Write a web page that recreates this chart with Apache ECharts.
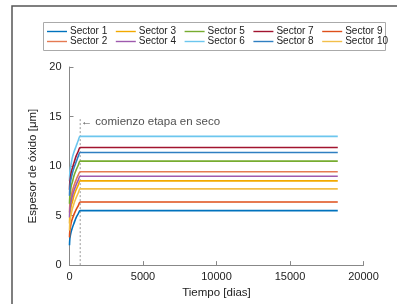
<!DOCTYPE html>
<html>
<head>
<meta charset="utf-8">
<script src="https://cdn.jsdelivr.net/npm/echarts@6/dist/echarts.min.js"></script>
<style>
  html, body { margin: 0; padding: 0; background: #fff; }
  #chart { width: 397px; height: 304px; }
</style>
</head>
<body>
<div id="chart"></div>
<script>
// tiempo en dias
const days = [0, 20, 60, 120, 200, 300, 450, 600, 730, 18250];
const sectorNames = ["Sector 1", "Sector 2", "Sector 3", "Sector 4", "Sector 5",
  "Sector 6", "Sector 7", "Sector 8", "Sector 9", "Sector 10"];
const sectorColors = ["#0072BD", "#E57A52", "#F2A900", "#9E5AAE", "#77AC30",
  "#6CC6EE", "#A2142F", "#2F7FC1", "#DE4F1A", "#F2BF4A"];
// espesor de oxido [um]
const sector1 = [2.0, 2.6, 3.0, 3.4, 3.8, 4.2, 4.8, 5.2, 5.5, 5.5];
const sector2 = [5.3, 6.0, 6.5, 7.0, 7.5, 8.0, 8.6, 9.1, 9.43, 9.43];
const sector3 = [4.2, 4.9, 5.4, 6.0, 6.4, 7.0, 7.6, 8.1, 8.5, 8.5];
const sector4 = [4.8, 5.5, 6.0, 6.5, 7.0, 7.5, 8.1, 8.6, 8.97, 8.97];
const sector5 = [6.2, 6.9, 7.4, 8.0, 8.4, 9.0, 9.6, 10.1, 10.5, 10.5];
const sector6 = [8.5, 9.3, 9.8, 10.3, 10.9, 11.4, 12.0, 12.6, 13.0, 13.0];
const sector7 = [7.6, 8.3, 8.8, 9.4, 9.8, 10.3, 11.0, 11.5, 11.87, 11.87];
const sector8 = [7.0, 7.7, 8.3, 8.8, 9.3, 9.8, 10.4, 11.0, 11.37, 11.37];
const sector9 = [2.8, 3.4, 3.8, 4.3, 4.7, 5.1, 5.6, 6.0, 6.37, 6.37];
const sector10 = [3.5, 4.2, 4.7, 5.2, 5.7, 6.2, 6.8, 7.3, 7.7, 7.7];
const sectors = [sector1, sector2, sector3, sector4, sector5,
  sector6, sector7, sector8, sector9, sector10];
// linea de inicio de la etapa en seco
const dryStart = [[730, 0], [730, 14.8]];
const dryLabel = [[760, 14.5]];
const xTicks = [0, 20000, 5000];
const yTicks = [0, 20, 5];

const font = "Liberation Sans, Arial, sans-serif";
const chart = echarts.init(document.getElementById("chart"), null, { renderer: "canvas" });

const series = sectors.map((vals, i) => ({
  name: sectorNames[i],
  type: "line",
  data: days.map((d, k) => [d, vals[k]]),
  showSymbol: false,
  smooth: 0.3,
  lineStyle: { width: 1.6, color: sectorColors[i] },
  itemStyle: { color: sectorColors[i] },
  z: 3
}));
series.push({
  type: "line",
  data: dryStart,
  showSymbol: false,
  silent: true,
  lineStyle: { width: 1.2, color: "#aaaaaa", type: [2, 2] },
  z: 2
});
series.push({
  type: "scatter",
  data: dryLabel,
  symbolSize: 0,
  silent: true,
  label: {
    show: true, position: "right", distance: 0,
    formatter: "\u2190 comienzo etapa en seco",
    color: "#222", fontSize: 11.5, fontFamily: font
  }
});

// leyenda: 2 filas x 5 columnas
const legends = sectorNames.map((name, i) => ({
  data: [name],
  left: 47 + Math.floor(i / 2) * 68.8,
  top: i % 2 === 0 ? 26.5 : 36.5,
  itemWidth: 20, itemHeight: 10, itemGap: 0,
  padding: 0,
  icon: "path://M0,4.3L20,4.3L20,5.7L0,5.7Z",
  textStyle: { fontSize: 10, fontFamily: font, color: "#222", padding: [0, 0, 0, -2] },
  selectedMode: false
}));

chart.setOption({
  animation: false,
  backgroundColor: "#fff",
  graphic: [
    { type: "rect", shape: { x: 12, y: 6, width: 420, height: 320 },
      style: { fill: "none", stroke: "#555", lineWidth: 1.5 }, z: -1 },
    { type: "rect", shape: { x: 43.5, y: 22.5, width: 342, height: 28 },
      style: { fill: "#fff", stroke: "#aaa", lineWidth: 1 }, z: -1 }
  ],
  legend: legends,
  grid: { left: 69.5, right: 33.5, top: 67, bottom: 37 },
  xAxis: {
    type: "value", min: xTicks[0], max: xTicks[1], interval: xTicks[2],
    name: "Tiempo [dias]", nameLocation: "middle", nameGap: 18,
    nameTextStyle: { fontSize: 11.5, fontFamily: font, color: "#222" },
    axisLine: { onZero: false, lineStyle: { color: "#888", width: 1 } },
    axisTick: { inside: true, length: 4, lineStyle: { color: "#888" } },
    axisLabel: { fontSize: 11, fontFamily: font, color: "#222", margin: 6,
      formatter: v => String(v) },
    splitLine: { show: false }
  },
  yAxis: {
    type: "value", min: yTicks[0], max: yTicks[1], interval: yTicks[2],
    name: "Espesor de óxido [μm]", nameLocation: "middle", nameGap: 13,
    nameTextStyle: { fontSize: 11.5, fontFamily: font, color: "#222" },
    axisLine: { show: true, lineStyle: { color: "#888", width: 1 } },
    axisTick: { show: true, inside: true, length: 4, lineStyle: { color: "#888" } },
    axisLabel: { fontSize: 11, fontFamily: font, color: "#222", margin: 8 },
    splitLine: { show: false }
  },
  series: series
});
</script>
</body>
</html>
